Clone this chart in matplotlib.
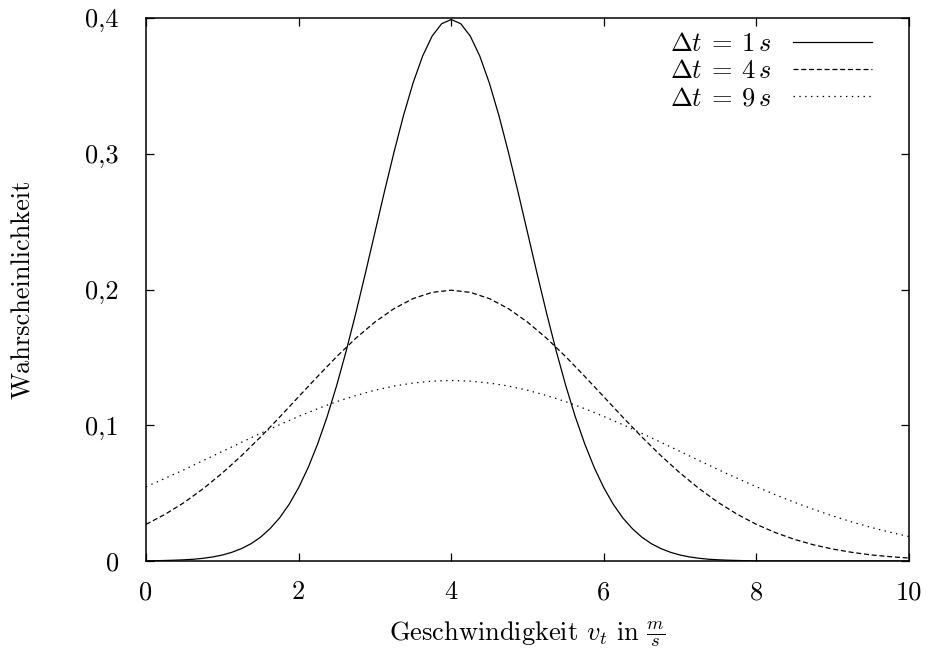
import matplotlib
matplotlib.use("Agg")
import matplotlib.pyplot as plt
import numpy as np

# -------- Data --------
x1 = np.linspace(0, 10, 81)   # finer sampling for the narrow curve
x = np.linspace(0, 10, 41)

p_dt1 = [0.0001, 0.0002, 0.0004, 0.0006, 0.0009, 0.0013, 0.0020, 0.0030,
         0.0044, 0.0064, 0.0091, 0.0127, 0.0175, 0.0238, 0.0317, 0.0417,
         0.0540, 0.0688, 0.0863, 0.1065, 0.1295, 0.1550, 0.1826, 0.2119,
         0.2420, 0.2721, 0.3011, 0.3282, 0.3521, 0.3719, 0.3867, 0.3958,
         0.3989,
         0.3958, 0.3867, 0.3719, 0.3521, 0.3282, 0.3011, 0.2721, 0.2420,
         0.2119, 0.1826, 0.1550, 0.1295, 0.1065, 0.0863, 0.0688, 0.0540,
         0.0417, 0.0317, 0.0238, 0.0175, 0.0127, 0.0091, 0.0064, 0.0044,
         0.0030, 0.0020, 0.0013, 0.0009, 0.0006, 0.0004, 0.0002, 0.0001,
         0.0, 0.0, 0.0, 0.0, 0.0, 0.0, 0.0, 0.0,
         0.0, 0.0, 0.0, 0.0, 0.0, 0.0, 0.0, 0.0]

p_dt4 = [0.0270, 0.0344, 0.0431, 0.0533, 0.0648, 0.0775, 0.0913, 0.1059,
         0.1210, 0.1360, 0.1506, 0.1641, 0.1760, 0.1859, 0.1933, 0.1979,
         0.1995, 0.1979, 0.1933, 0.1859, 0.1760, 0.1641, 0.1506, 0.1360,
         0.1210, 0.1059, 0.0913, 0.0775, 0.0648, 0.0533, 0.0431, 0.0344,
         0.0270, 0.0209, 0.0159, 0.0119, 0.0088, 0.0064, 0.0045, 0.0032,
         0.0022]

p_dt9 = [0.0547, 0.0609, 0.0673, 0.0740, 0.0807, 0.0874, 0.0940, 0.1004,
         0.1065, 0.1122, 0.1174, 0.1219, 0.1258, 0.1289, 0.1311, 0.1325,
         0.1330, 0.1325, 0.1311, 0.1289, 0.1258, 0.1219, 0.1174, 0.1122,
         0.1065, 0.1004, 0.0940, 0.0874, 0.0807, 0.0740, 0.0673, 0.0609,
         0.0547, 0.0488, 0.0432, 0.0380, 0.0332, 0.0288, 0.0248, 0.0212,
         0.0180]

labels = [r"$\Delta t\:=\:1\,s$", r"$\Delta t\:=\:4\,s$", r"$\Delta t\:=\:9\,s$"]

xticks = [0, 2, 4, 6, 8, 10]
yticks = [0, 0.1, 0.2, 0.3, 0.4]
ytick_labels = ["0", "0,1", "0,2", "0,3", "0,4"]

# -------- Style --------
plt.rcParams["font.family"] = "serif"
plt.rcParams["font.serif"] = ["cmr10", "DejaVu Serif"]
plt.rcParams["mathtext.fontset"] = "cm"
plt.rcParams["axes.unicode_minus"] = False
plt.rcParams["lines.scale_dashes"] = False

FS = 19

fig = plt.figure(figsize=(9.3, 6.55), dpi=100)
ax = fig.add_axes([0.157, 0.1435, 0.8204, 0.829])

ax.plot(x1, p_dt1, color="black", lw=0.9, label=labels[0])
ax.plot(x, p_dt4, color="black", lw=0.9, dashes=(3.6, 2.0), label=labels[1])
ax.plot(x, p_dt9, color="black", lw=0.9, dashes=(1.0, 3.2), label=labels[2])

ax.set_xlim(0, 10)
ax.set_ylim(0, 0.4)
ax.set_xticks(xticks)
ax.set_xticklabels([str(t) for t in xticks])
ax.set_yticks(yticks)
ax.set_yticklabels(ytick_labels)

ax.tick_params(direction="in", length=6, width=0.9, top=True, right=True,
               labelsize=FS)
ax.tick_params(axis="x", pad=14)
ax.tick_params(axis="y", pad=19.5)
for s in ax.spines.values():
    s.set_linewidth(1.1)

ax.set_xlabel(r"Geschwindigkeit $v_t$ in $\frac{m}{s}$", fontsize=FS, labelpad=11)
ax.set_ylabel("Wahrscheinlichkeit", fontsize=FS, labelpad=36)

ax.legend(loc="upper right", frameon=False, markerfirst=False, fontsize=FS,
          handlelength=3.0, labelspacing=0.12, borderaxespad=0.25,
          borderpad=0.3, handletextpad=0.8,
          bbox_to_anchor=(0.971, 1.0))

fig.savefig("out.png", dpi=100)
